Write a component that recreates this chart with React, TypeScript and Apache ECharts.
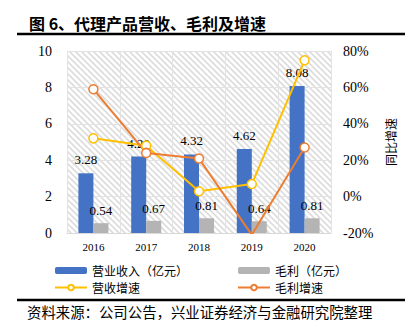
import React, { useEffect, useRef } from "react";
import * as echarts from "echarts";

const years = ["2016", "2017", "2018", "2019", "2020"];
const revenue = [3.28, 4.2, 4.32, 4.62, 8.08];
const grossProfit = [0.54, 0.67, 0.81, 0.64, 0.81];
const revenueGrowth = [0.32, 0.28, 0.029, 0.069, 0.749];
const profitGrowth = [0.59, 0.24, 0.209, -0.21, 0.27];
const leftTicks = { min: 0, max: 10, interval: 2 };
const rightTicks = { min: -0.2, max: 0.8, interval: 0.2 };

const SERIF = "'Liberation Serif', 'Times New Roman', serif";
const CJK = "'Noto Sans CJK SC', sans-serif";

function makeStripes(): string {
  const c = document.createElement("canvas");
  const s = 6;
  c.width = s;
  c.height = s;
  const ctx = c.getContext("2d")!;
  ctx.fillStyle = "#ffffff";
  ctx.fillRect(0, 0, s, s);
  ctx.strokeStyle = "#dcdcdc";
  ctx.lineWidth = 1.6;
  ctx.beginPath();
  ctx.moveTo(-1, -1);
  ctx.lineTo(s + 1, s + 1);
  ctx.moveTo(-1, s - 1);
  ctx.lineTo(1, s + 1);
  ctx.moveTo(s - 1, -1);
  ctx.lineTo(s + 1, 1);
  ctx.stroke();
  return c.toDataURL();
}

export default function App() {
  const ref = useRef<HTMLDivElement>(null);
  useEffect(() => {
    if (!ref.current) return;
    const chart = echarts.init(ref.current, undefined, { renderer: "svg" });
    const stripe = makeStripes();
    const legendText = { fontSize: 12, lineHeight: 13, fontFamily: CJK, color: "#000" };
    chart.setOption({
      animation: false,
      backgroundColor: "#fff",
      title: {
        text: "图 6、代理产品营收、毛利及增速",
        left: 24,
        top: 10,
        textStyle: { fontSize: 16, fontWeight: "bold", fontFamily: CJK, color: "#000" },
      },
      graphic: [
        { type: "line", shape: { x1: 17, y1: 34, x2: 405, y2: 34 }, style: { stroke: "#000", lineWidth: 2.5 } },
        { type: "line", shape: { x1: 17, y1: 300, x2: 405, y2: 300 }, style: { stroke: "#000", lineWidth: 2.5 } },
        {
          type: "text",
          left: 27,
          top: 304,
          style: { text: "资料来源：公司公告，兴业证券经济与金融研究院整理", fontSize: 14.4, fontFamily: CJK, fill: "#000" },
        },
      ],
      legend: [
        {
          orient: "vertical",
          left: 54,
          top: 264,
          itemWidth: 32,
          itemHeight: 7,
          itemGap: 4,
          padding: 0,
          textStyle: legendText,
          data: ["营业收入（亿元）", "营收增速"],
        },
        {
          orient: "vertical",
          left: 237,
          top: 264,
          itemWidth: 32,
          itemHeight: 7,
          itemGap: 4,
          padding: 0,
          textStyle: legendText,
          data: ["毛利（亿元）", "毛利增速"],
        },
      ],
      grid: {
        left: 67,
        right: 82,
        top: 51,
        bottom: 96,
        show: true,
        borderWidth: 0,
        backgroundColor: { image: stripe, repeat: "repeat" },
      },
      xAxis: {
        type: "category",
        data: years,
        boundaryGap: true,
        axisLine: { show: true, lineStyle: { color: "#d9d9d9", width: 1 } },
        axisTick: { show: false },
        splitLine: { show: true, lineStyle: { color: "#e3e3e3", width: 1 } },
        axisLabel: { fontSize: 11, fontFamily: SERIF, color: "#000", margin: 8 },
      },
      yAxis: [
        {
          type: "value",
          ...leftTicks,
          axisLine: { show: true, lineStyle: { color: "#e3e3e3" } },
          axisTick: { show: false },
          splitLine: { lineStyle: { color: "#e3e3e3", width: 1 } },
          axisLabel: { fontSize: 14, fontFamily: SERIF, color: "#000", margin: 15 },
        },
        {
          type: "value",
          ...rightTicks,
          position: "right",
          name: "同比增速",
          nameLocation: "middle",
          nameRotate: 90,
          nameGap: 50,
          nameTextStyle: { fontSize: 12, fontFamily: CJK, color: "#000" },
          axisLine: { show: true, lineStyle: { color: "#e3e3e3" } },
          axisTick: { show: false },
          splitLine: { show: false },
          axisLabel: {
            fontSize: 14,
            fontFamily: SERIF,
            color: "#000",
            margin: 12,
            formatter: (v: number) => `${Math.round(v * 100)}%`,
          },
        },
      ],
      series: [
        {
          name: "营业收入（亿元）",
          type: "bar",
          data: revenue,
          barWidth: 15,
          barGap: "0%",
          itemStyle: { color: "#4472c4" },
          label: {
            show: true,
            position: "top",
            distance: 7,
            fontSize: 13,
            fontFamily: SERIF,
            color: "#000",
            formatter: (p: any) => p.value.toFixed(2),
          },
        },
        {
          name: "毛利（亿元）",
          type: "bar",
          data: grossProfit,
          barWidth: 15,
          barGap: "0%",
          itemStyle: { color: "#b4b4b4" },
          label: {
            show: true,
            position: "top",
            distance: 6,
            fontSize: 13,
            fontFamily: SERIF,
            color: "#000",
            formatter: (p: any) => p.value.toFixed(2),
          },
        },
        {
          name: "营收增速",
          type: "line",
          yAxisIndex: 1,
          data: revenueGrowth,
          symbol: "circle",
          symbolSize: 9,
          color: "#ffc000",
          lineStyle: { color: "#ffc000", width: 2 },
          itemStyle: { color: "#fff", borderColor: "#ffc000", borderWidth: 1.5 },
        },
        {
          name: "毛利增速",
          type: "line",
          yAxisIndex: 1,
          data: profitGrowth,
          symbol: "circle",
          symbolSize: 9,
          color: "#ed7d31",
          lineStyle: { color: "#ed7d31", width: 2 },
          itemStyle: { color: "#fff", borderColor: "#ed7d31", borderWidth: 1.5 },
        },
      ],
    });
    return () => chart.dispose();
  }, []);
  return <div ref={ref} style={{ width: 413, height: 329, position: "absolute", left: 0, top: 0 }} />;
}
